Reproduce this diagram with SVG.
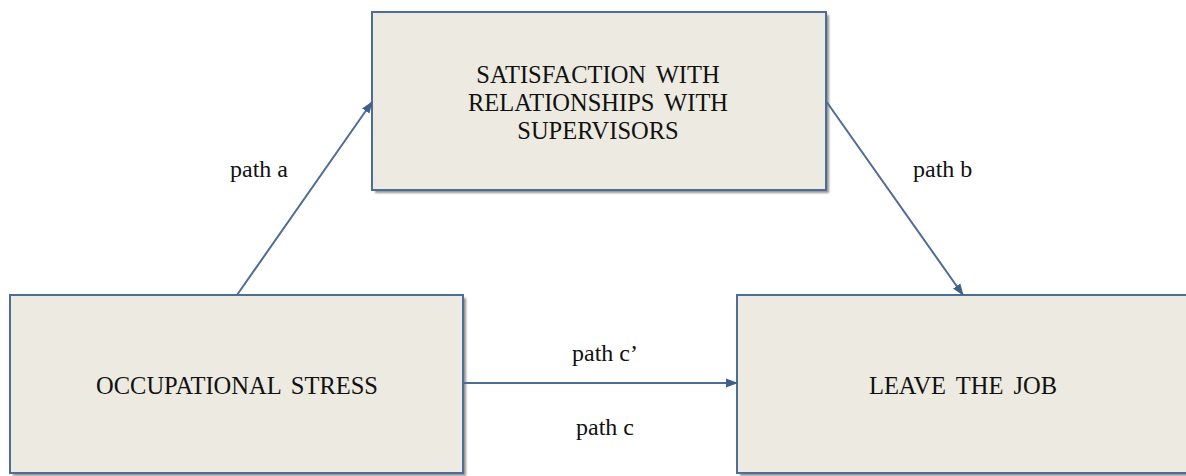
<svg xmlns="http://www.w3.org/2000/svg" width="1186" height="476" viewBox="0 0 1186 476">
<defs>
<style>
.box{fill:#EDEBE1;stroke:#4F6C94;stroke-width:2}
.shadow{fill:#3a3a3a;opacity:0.55}
.nt{font-family:"Liberation Serif","Times New Roman",serif;font-size:24.5px;fill:#111;text-anchor:middle;word-spacing:4px}
.lbl{font-family:"Liberation Serif","Times New Roman",serif;font-size:24px;fill:#111}
.conn{stroke:#4F6C94;stroke-width:2;fill:none;marker-end:url(#ah)}
</style>
<filter id="blur" x="-5%" y="-5%" width="110%" height="110%"><feGaussianBlur stdDeviation="1.2"/></filter>
<marker id="ah" markerWidth="12" markerHeight="10" refX="11" refY="5" orient="auto" markerUnits="userSpaceOnUse">
<path d="M0,0.5 L12,5 L0,9.5 Z" fill="#3E5F8C"/>
</marker>
</defs>
<rect width="1186" height="476" fill="#ffffff"/>
<g id="node-satisfaction">
<rect class="shadow" x="375" y="15" width="454" height="178" filter="url(#blur)"/>
<rect class="box" x="372" y="12" width="454" height="178"/>
<text class="nt" x="598" y="83">SATISFACTION WITH</text>
<text class="nt" x="598" y="111">RELATIONSHIPS WITH</text>
<text class="nt" x="598" y="139">SUPERVISORS</text>
</g>
<g id="node-stress">
<rect class="shadow" x="13" y="298" width="453" height="178" filter="url(#blur)"/>
<rect class="box" x="10" y="295" width="453" height="178"/>
<text class="nt" x="237" y="394">OCCUPATIONAL STRESS</text>
</g>
<g id="node-leave">
<rect class="shadow" x="740" y="298" width="460" height="178" filter="url(#blur)"/>
<rect class="box" x="737" y="295" width="460" height="178"/>
<text class="nt" x="963" y="394">LEAVE THE JOB</text>
</g>
<g id="connectors">
<line class="conn" x1="237" y1="295" x2="372" y2="102"/>
<line class="conn" x1="826" y1="101" x2="963" y2="295"/>
<line class="conn" x1="463" y1="383" x2="737" y2="383"/>
<text class="lbl" x="230" y="177">path a</text>
<text class="lbl" x="913" y="177">path b</text>
<text class="lbl" x="572" y="361">path c’</text>
<text class="lbl" x="576" y="435">path c</text>
</g>
</svg>
